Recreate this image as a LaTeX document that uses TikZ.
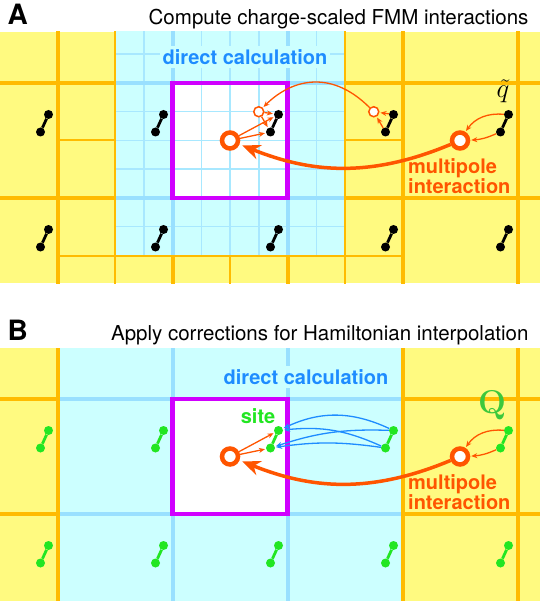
\RequirePackage{fix-cm}
\documentclass[tikz,border=0pt]{standalone}
\usepackage[no-math]{fontspec}
\setmainfont{TeX Gyre Heros}
\usetikzlibrary{arrows.meta}
\definecolor{cellyellow}{HTML}{FFFA80}
\definecolor{gridorange}{HTML}{FFBB00}
\definecolor{nearcyan}{HTML}{CCFFFF}
\definecolor{finegrid}{HTML}{A8E8FF}
\definecolor{neargrid}{HTML}{99E0FF}
\definecolor{boxmagenta}{HTML}{D000FF}
\definecolor{fmmorange}{HTML}{FF5500}
\definecolor{directblue}{HTML}{1E8CFF}
\definecolor{sitegreen}{HTML}{22E622}
\definecolor{chargegreen}{HTML}{3CC83C}
\newcommand{\fsz}[1]{\fontsize{#1}{#1}\selectfont}
% one charge pair: upper (p) and lower (n) end
\newcommand{\dipole}[4]{%
	\node[charge, fill=#4] (#1p) at ({#2+48.5},{#3-26}) {};
	\node[charge, fill=#4] (#1n) at ({#2+40.5},{#3-8.5}) {};
	\draw[#4, line width=2.8pt] (#1n) -- (#1p);}

\begin{document}
\begin{tikzpicture}[
	x=1pt, y=-1pt,
	bigline/.style={gridorange, line width=4pt},
	midline/.style={gridorange, line width=2pt},
	fineline/.style={finegrid, line width=1.5pt},
	nearline/.style={neargrid, line width=4pt},
	boxline/.style={boxmagenta, line width=4.5pt},
	charge/.style={circle, inner sep=0pt, minimum size=9pt},
	ring/.style={circle, draw=fmmorange, fill=white, line width=4.5pt, inner sep=0pt, minimum size=16pt},
	subring/.style={circle, draw=fmmorange, fill=white, line width=1.5pt, inner sep=0pt, minimum size=10pt},
	feed/.style={-{Stealth[length=6pt, width=5pt]}, fmmorange, line width=1.3pt, shorten >=1pt},
	direct/.style={-{Stealth[length=6pt, width=5pt]}, directblue, line width=1.3pt, shorten >=1pt},
	m2l/.style={-{Stealth[length=18pt, width=15pt]}, fmmorange, line width=3.5pt, shorten >=3pt},
	title/.style={font=\fsz{20.5}, anchor=base east},
	panel/.style={font=\fsz{28}\bfseries, anchor=base west},
	nearlabel/.style={font=\fsz{20}\bfseries, text=directblue, fill=nearcyan, inner sep=3pt},
	mplabel/.style={font=\fsz{20}\bfseries, text=fmmorange, align=left, anchor=north west, inner sep=0pt}
	]
	\useasboundingbox (0,0) rectangle (540,601);
	
	% ==========================================
	% PANEL A: charge-scaled FMM interactions
	% ==========================================
	
	\begin{scope}
		\clip (0,32) rectangle (540,283);
		\fill[cellyellow] (0,32) rectangle (540,283);
		% second-level boxes round the target
		\foreach \u in {115,230,345}
			\draw[midline] (\u,0) -- (\u,300);
		\foreach \v in {25.5,140.5,255.5}
			\draw[midline] (57.5,\v) -- (402.5,\v);
		% first-level boxes
		\foreach \u in {57.5,172.5,287.5,402.5,517.5}
			\draw[bigline] (\u,0) -- (\u,300);
		\foreach \v in {83,198}
			\draw[bigline] (0,\v) -- (540,\v);
		% near field on the finest level
		\fill[nearcyan] (115,25.5) rectangle (345,255.5);
		\foreach \k in {1,...,7} {
			\draw[fineline] ({115+28.75*\k},25.5) -- ({115+28.75*\k},255.5);
			\draw[fineline] (115,{25.5+28.75*\k}) -- (345,{25.5+28.75*\k});
		}
		\draw[nearline] (172.5,25.5) -- (172.5,255.5) (287.5,25.5) -- (287.5,255.5)
			(115,83) -- (345,83) (115,198) -- (345,198);
		\draw[midline] (115,25.5) rectangle (345,255.5);
		% target box
		\fill[white] (172.5,83) rectangle (287.5,198);
		\foreach \k in {1,2,3} {
			\draw[fineline] ({172.5+28.75*\k},83) -- ({172.5+28.75*\k},198);
			\draw[fineline] (172.5,{83+28.75*\k}) -- (287.5,{83+28.75*\k});
		}
		\draw[boxline] (172.5,83) rectangle (287.5,198);
	\end{scope}
	
	\node[panel] (labA) at (4,25) {A};
	\node[title] (titleA) at (532,25) {Compute charge-scaled FMM interactions};
	\node[nearlabel] (nearA) at (245,57) {direct calculation};
	
	% scaled charges
	\foreach \i/\cx in {0/0,1/115,2/230,3/345,4/460}
		\foreach \j/\cy in {0/140.5,1/255.5}
			\dipole{qA\i\j}{\cx}{\cy}{black};
	
	% expansion centres
	\node[ring] (centA) at (230,140.5) {};
	\node[ring] (farA) at (460,140.5) {};
	\node[subring] (subA2) at (258.75,111.75) {};
	\node[subring] (subA3) at (373.75,111.75) {};
	
	\node[font=\fsz{27}, anchor=base, inner sep=0pt] (qtA) at (503,98) {$\tilde{q}$};
	\node[mplabel] (mpA) at (408,158) {multipole\\interaction};
	
	\draw[feed] (qA40p) to[bend right=30] (farA);
	\draw[feed] (qA40n) to[bend left=10] (farA);
	\draw[feed] (qA30p) -- (subA3);
	\draw[feed] (qA30n) -- (subA3);
	\draw[feed] (subA3) .. controls +(-45,-45) and +(30,-30) .. (subA2);
	\draw[feed] (subA2) -- (qA20p);
	\draw[feed] (subA2) -- (qA20n);
	\draw[feed] (centA) -- (qA20p);
	\draw[feed] (centA) -- (qA20n);
	\draw[m2l] (farA) .. controls +(-91,38) and +(80,32) .. (centA);
	
	% ==========================================
	% PANEL B: corrections for the interpolation
	% ==========================================
	
	\begin{scope}
		\clip (0,348) rectangle (540,601);
		\fill[cellyellow] (0,348) rectangle (540,601);
		\fill[nearcyan] (57.5,348) rectangle (402.5,601);
		\draw[nearline] (172.5,348) -- (172.5,601) (287.5,348) -- (287.5,601)
			(57.5,399) -- (402.5,399) (57.5,514) -- (402.5,514);
		\foreach \u in {57.5,402.5,517.5}
			\draw[bigline] (\u,348) -- (\u,601);
		\draw[bigline] (0,399) -- (57.5,399) (402.5,399) -- (540,399)
			(0,514) -- (57.5,514) (402.5,514) -- (540,514);
		% target box
		\fill[white] (172.5,399) rectangle (287.5,514);
		\draw[boxline] (172.5,399) rectangle (287.5,514);
	\end{scope}
	
	\node[panel] (labB) at (4,340) {B};
	\node[title] (titleB) at (532,340) {Apply corrections for Hamiltonian interpolation};
	\node[nearlabel] (nearB) at (306,377) {direct calculation};
	
	% interpolation sites
	\foreach \i/\cx in {0/0,1/115,2/230,3/345,4/460}
		\foreach \j/\cy in {0/456.5,1/571.5}
			\dipole{qB\i\j}{\cx}{\cy}{sitegreen};
	
	\node[ring] (centB) at (230,456.5) {};
	\node[ring] (farB) at (460,456.5) {};
	
	\node[font=\fsz{20}\bfseries, text=sitegreen] (siteB) at (258,416) {site};
	\node[font=\fsz{33}, text=chargegreen, inner sep=0pt] (QB) at (492,405) {$\mathbf{Q}$};
	\node[mplabel] (mpB) at (408,474) {multipole\\interaction};
	
	\draw[feed] (qB40p) to[bend right=30] (farB);
	\draw[feed] (qB40n) to[bend left=10] (farB);
	\draw[feed] (centB) -- (qB20p);
	\draw[feed] (centB) -- (qB20n);
	\draw[m2l] (farB) .. controls +(-91,38) and +(80,32) .. (centB);
	
	% direct corrections from the neighbour
	\draw[direct] (qB30p) to[bend right=25] (qB20p);
	\draw[direct] (qB30n) to[bend right=15] (qB20p);
	\draw[direct] (qB30p) to[bend right=10] (qB20n);
	\draw[direct] (qB30n) to[bend right=8] (qB20n);
\end{tikzpicture}
\end{document}
